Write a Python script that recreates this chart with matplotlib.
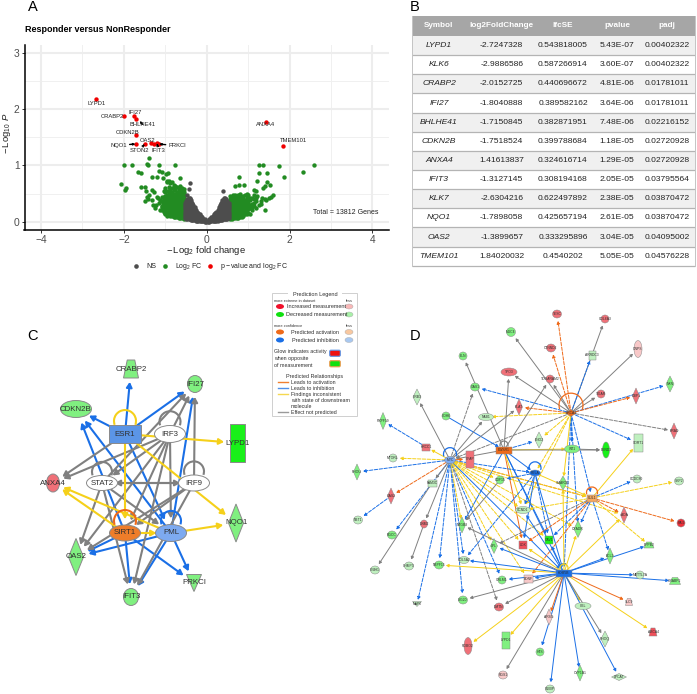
import matplotlib
matplotlib.use('Agg')
import matplotlib.pyplot as plt
from matplotlib.patches import Ellipse, Rectangle, Polygon, Arc, FancyBboxPatch

plt.rcParams['font.family'] = ['Liberation Sans', 'DejaVu Sans']
plt.rcParams['mathtext.fontset'] = 'custom'
plt.rcParams['mathtext.rm'] = 'Liberation Sans'
plt.rcParams['mathtext.it'] = 'Liberation Sans:italic'
plt.rcParams['mathtext.bf'] = 'Liberation Sans:bold'

W, H = 697, 694
# ---------- Panel A data ----------
ns_rows = {0.02:[0.0,0.02],0.05:[0.0,0.02,0.04],0.08:[0.01,0.03,0.05],0.11:[0.01,0.03,0.06,0.08],0.14:[0.01,0.04,0.07,0.1],0.17:[0.02,0.05,0.08,0.11,0.13],
 0.2:[0.02,0.05,0.08,0.11,0.15],0.23:[0.02,0.05,0.08,0.11,0.14,0.18],0.26:[0.02,0.05,0.08,0.12,0.16,0.2],0.29:[0.03,0.06,0.1,0.14,0.18,0.22,0.26],
 0.32:[0.03,0.06,0.1,0.14,0.18,0.22,0.26,0.3],0.35:[0.03,0.07,0.11,0.15,0.19,0.23,0.27,0.31,0.34],0.38:[0.03,0.07,0.11,0.15,0.19,0.23,0.27,0.31,0.35,0.39],
 0.41:[0.04,0.08,0.12,0.16,0.2,0.24,0.28,0.32,0.36,0.4,0.43],0.44:[0.04,0.08,0.12,0.16,0.2,0.24,0.28,0.32,0.36,0.4,0.43],
 0.47:[0.05,0.09,0.13,0.17,0.21,0.25,0.29,0.33,0.37,0.41],0.5:[0.05,0.09,0.13,0.17,0.21,0.25,0.29,0.33,0.37],0.53:[0.06,0.1,0.14,0.18,0.22,0.26,0.3,0.34]}
ns_x = [s*k for k,v in ns_rows.items() for _ in v for s in (-1,1)] + [-0.4,-0.43,0.4,-0.48]
ns_y = [y for k,v in ns_rows.items() for y in v for _ in (0,1)] + [0.69,0.58,0.55,0.47]
fc_left_rows = {-0.56:[0.05,0.09,0.13,0.17,0.21,0.25,0.29,0.33,0.37,0.41,0.45,0.49,0.53,0.58],-0.6:[0.06,0.1,0.14,0.18,0.22,0.26,0.3,0.34,0.38,0.42,0.46,0.5,0.54,0.6],
 -0.64:[0.06,0.1,0.14,0.18,0.22,0.26,0.3,0.34,0.38,0.42,0.46,0.5,0.55,0.63],-0.68:[0.07,0.11,0.15,0.19,0.23,0.27,0.31,0.35,0.39,0.43,0.47,0.52,0.58],
 -0.72:[0.08,0.12,0.16,0.2,0.24,0.28,0.32,0.36,0.4,0.44,0.48,0.53,0.62],-0.76:[0.08,0.12,0.16,0.2,0.24,0.28,0.32,0.36,0.4,0.44,0.5,0.56,0.64],
 -0.8:[0.09,0.13,0.17,0.21,0.25,0.29,0.33,0.37,0.41,0.45,0.5,0.58,0.66],-0.84:[0.1,0.14,0.18,0.22,0.26,0.3,0.34,0.38,0.42,0.47,0.53,0.6,0.71],
 -0.88:[0.1,0.14,0.18,0.23,0.27,0.31,0.35,0.4,0.45,0.5,0.58,0.68],-0.92:[0.12,0.17,0.21,0.26,0.3,0.34,0.38,0.44,0.5,0.55,0.62],
 -0.96:[0.1,0.17,0.24,0.29,0.33,0.38,0.42,0.47,0.55,0.7],-1.0:[0.13,0.2,0.27,0.33,0.4,0.46,0.52,0.6],-1.04:[0.17,0.24,0.31,0.38,0.44,0.54],-1.08:[0.2,0.27,0.36,0.44]}
fc_right_rows = {0.56:[0.05,0.09,0.13,0.17,0.21,0.25,0.29,0.33,0.37,0.41,0.45],0.6:[0.05,0.09,0.13,0.17,0.21,0.25,0.29,0.33,0.37,0.41,0.44],
 0.64:[0.06,0.1,0.14,0.18,0.22,0.26,0.3,0.34,0.38,0.42,0.47],0.68:[0.06,0.1,0.14,0.18,0.22,0.26,0.3,0.34,0.38,0.42,0.48],
 0.72:[0.07,0.11,0.15,0.19,0.23,0.27,0.31,0.35,0.39,0.43],0.76:[0.07,0.11,0.15,0.19,0.23,0.27,0.31,0.35,0.39,0.43,0.47],
 0.8:[0.08,0.12,0.16,0.2,0.24,0.28,0.32,0.36,0.4,0.46,0.5],0.84:[0.09,0.13,0.17,0.21,0.25,0.29,0.33,0.37,0.42],
 0.88:[0.11,0.15,0.2,0.25,0.3,0.35,0.4,0.46],0.92:[0.13,0.18,0.23,0.28,0.33,0.38,0.48],0.96:[0.14,0.2,0.26,0.31,0.36,0.42,0.5],
 1.0:[0.15,0.22,0.28,0.34,0.4,0.48],1.05:[0.14,0.24,0.3,0.38,0.42],1.1:[0.2,0.26,0.32,0.42],1.15:[0.28,0.34,0.4,0.56],1.2:[0.25,0.36,0.42,0.54]}
fc_x = [-2.0,-1.8,-1.44,-1.41,-1.4,-1.15,-0.77,-1.65,-1.58,-1.33,-1.15,-1.09,-1.21,-0.93,-0.98,-1.05,-0.64,
 -2.06,-1.95,-1.97,-1.59,-1.49,-1.47,-1.33,-1.27,-1.45,-1.41,-1.33,-1.21,-1.12,-1.05,-1.5,-1.39,-1.3,-1.24,-1.12,-1.08,-1.02,-0.95,-0.9,-1.16,-1.22,-1.18,
 2.59,2.32,1.86,1.75,1.25,1.35,1.25,1.45,1.22,1.45,1.53,1.41,1.37,0.79,0.67,0.77,0.9,1.6,1.56,1.4,1.33,1.22,1.15,1.4,1.5,1.42,1.3,1.25,1.32]
fc_y = [1.0,1.0,1.02,1.0,1.13,1.01,1.01,0.88,0.86,0.8,0.9,0.88,0.8,0.87,0.85,0.77,0.78,
 0.67,0.6,0.57,0.62,0.61,0.55,0.56,0.53,0.44,0.4,0.38,0.44,0.38,0.33,0.36,0.48,0.3,0.25,0.2,0.28,0.16,0.72,0.72,0.34,0.3,0.42,
 1.0,0.88,0.79,0.99,1.0,1.0,0.86,0.86,0.73,0.7,0.66,0.63,0.6,0.79,0.63,0.65,0.66,0.47,0.44,0.4,0.42,0.45,0.48,0.2,0.43,0.38,0.36,0.3,0.31]
for rows_ in (fc_left_rows, fc_right_rows):
    for k, v in rows_.items():
        fc_x += [k]*len(v); fc_y += v
sig_x = [-2.67,-1.99,-1.76,-1.71,-1.70,-1.72,-1.5,-1.35,-1.27,-1.2,-1.15,1.42,1.84]
sig_y = [2.18,1.88,1.87,1.82,1.54,1.38,1.38,1.39,1.38,1.39,1.38,1.78,1.34]
labels = [('LYPD1',-2.67,2.18,-2.67,2.10,False),('CRABP2',-1.99,1.88,-2.29,1.87,False),('IFI27',-1.76,1.87,-1.72,1.94,False),
 ('BHLHE41',-1.62,1.79,-1.55,1.73,True),('CDKN2B',-1.70,1.54,-1.92,1.59,False),('NQO1',-1.72,1.38,-2.13,1.36,True),
 ('OAS2',-1.5,1.38,-1.43,1.45,False),('STON2',-1.5,1.38,-1.63,1.26,True),('IFIT3',-1.2,1.39,-1.16,1.27,True),
 ('PRKCI',-1.15,1.38,-0.71,1.35,True),('ANXA4',1.42,1.78,1.41,1.72,False),('TMEM101',1.84,1.34,2.09,1.44,False)]
xticks = [-4,-2,0,2,4]; yticks = [0,1,2,3]

# ---------- Panel B data ----------
tbl_header = ['Symbol','log2FoldChange','lfcSE','pvalue','padj']
tbl_symbol = ['LYPD1','KLK6','CRABP2','IFI27','BHLHE41','CDKN2B','ANXA4','IFIT3','KLK7','NQO1','OAS2','TMEM101']
tbl_lfc = ['-2.7247328','-2.9886586','-2.0152725','-1.8040888','-1.7150845','-1.7518524','1.41613837','-1.3127145','-2.6304216','-1.7898058','-1.3899657','1.84020032']
tbl_se = ['0.543818005','0.587266914','0.440696672','0.389582162','0.382871951','0.399788684','0.324616714','0.308194168','0.622497892','0.425657194','0.333295896','0.4540202']
tbl_p = ['5.43E-07','3.60E-07','4.81E-06','3.64E-06','7.48E-06','1.18E-05','1.29E-05','2.05E-05','2.38E-05','2.61E-05','3.04E-05','5.05E-05']
tbl_padj = ['0.00402322','0.00402322','0.01781011','0.01781011','0.02216152','0.02720928','0.02720928','0.03795564','0.03870472','0.03870472','0.04095002','0.04576228']

# ---------- Network colours ----------
BL,OR,YE,GY = '#1a6fe6','#ee6a1a','#f5d01a','#808080'
LG,MG,BG = '#bff0bf','#80f080','#19f019'
LR,MR = '#f8c8c8','#f07078'
# name: x, y, w, h, shape, fill
nodes_c = {'CRABP2':(131,369,15,18,'trap',MG),'IFI27':(195,384,15,17,'ell',MG),'CDKN2B':(76,409,31,17,'ell',MG),
 'ESR1':(125,434,32,18,'rect','#5b95e6'),'IRF3':(170,434,31,17,'ell','white'),'LYPD1':(237,443,15,38,'rect',BG),
 'ANXA4':(53,483,13,18,'ell',MR),'STAT2':(102,483,31,15,'ell','white'),'IRF9':(194,483,31,16,'ell','white'),
 'NQO1':(236,523,15,38,'dia',MG),'SIRT1':(125,533,31,16,'ell','#ee7d2a'),'PML':(171,533,31,17,'ell','#7daaf0'),
 'OAS2':(76,557,15,37,'dia',MG),'PRKCI':(194,583,15,17,'tri',MG),'IFIT3':(131,597,15,17,'ell',MG)}
edges_c = [('ESR1','CRABP2',BL),('ESR1','IFI27',BL),('ESR1','CDKN2B',BL),('ESR1','PML',BL),('PML','CDKN2B',BL),('SIRT1','CDKN2B',BL),
 ('PML','IFI27',BL),('PML','IFIT3',BL),('PML','OAS2',BL),('PML','PRKCI',BL),('SIRT1','OAS2',BL),('SIRT1','PRKCI',BL),('SIRT1','IFIT3',BL),
 ('IRF3','IFI27',GY),('IRF3','ANXA4',GY),('IRF3','STAT2',GY),('IRF3','OAS2',GY),('IRF3','IFIT3',GY),('IRF3','SIRT1',GY),('IRF3','PML',GY),
 ('IRF9','IFI27',GY),('STAT2','IFI27',GY),('STAT2','IRF9',GY),('IRF9','STAT2',GY),('STAT2','OAS2',GY),('STAT2','PML',GY),('IRF9','OAS2',GY),
 ('IRF9','IFIT3',GY),('IRF9','SIRT1',GY),('ESR1','ANXA4',GY),('STAT2','IFIT3',GY),
 ('ESR1','LYPD1',YE),('ESR1','NQO1',YE),('ESR1','SIRT1',YE),('SIRT1','ANXA4',YE),('PML','ANXA4',YE),('PML','NQO1',YE),('SIRT1','PML',YE)]
loops_c = [('ESR1',YE,22),('IRF3',GY,21),('STAT2',GY,20),('IRF9',GY,20),('SIRT1',OR,22),('PML',BL,20)]

nodes_d = {'TESC':(557,314,9,8,'ell',MR),'COL6A3':(605,319,8,8,'ell',MR),'MUC4':(511,332,9,9,'ell',MG),'CTNND2':(551,348,9,8,'ell',MR),
 'GNPS':(638,349,8,17,'ell',LR),'ARRDC3':(592,355,7,9,'rect',LG),'ELN':(463,356,8,8,'ell',MG),'TPO3':(509,372,16,8,'ell',MR),
 'TOGARAM2':(550,379,8,8,'ell',MR),'GAS1':(475,387,9,8,'ell',MG),'NXN':(670,384,8,16,'dia',MG),'CRB3':(417,397,8,16,'dia',LG),
 'TIGAR':(601,394,8,8,'ell',MR),'GBP1':(636,396,7,16,'dia',MR),'PLAT':(519,407,7,16,'dia',MR),'BRCA1':(571,413,11,7,'dia',OR),
 'NAB1':(486,417,15,7,'ell',LG),'CDH6':(446,416,8,8,'ell',MG),'PRPF19':(383,421,7,17,'dia',MG),'RRAD':(674,431,7,16,'dia',MR),
 'ENO2':(539,440,8,16,'dia',LG),'SORT1':(638,443,9,18,'rect',LG),'WT1':(572,449,15,8,'ell',MG),'BEND3':(606,450,7,16,'ell',BG),
 'EWSR1':(504,450,16,7,'rect',OR),'KRCC1':(426,447,8,7,'rect',MR),'MTORL':(393,458,8,8,'ell',LG),'MYC':(450,460,11,7,'ell','#7daaf0'),
 'CFAP':(470,459,8,17,'rect',MR),'RELA':(535,473,11,6,'ell',BL),'RHOU':(357,472,7,16,'dia',MG),'FAM3C':(432,483,9,7,'rect',LG),
 'GDF15':(500,480,8,8,'ell',MG),'SMARD1':(563,483,8,14,'dia',MG),'CCDC80':(637,479,8,8,'ell',LG),'SKP2':(679,481,9,8,'ell',LG),
 'CUL1':(592,498,10,7,'rect','#f5a860'),'GAS2':(391,496,7,16,'dia',MR),'NET1':(358,520,9,8,'ell',LG),'RGCC':(392,535,9,8,'ell',MG),
 'DNM2':(424,524,7,8,'ell',MR),'CCND1':(523,510,15,7,'ell',LG),'ADA':(624,515,7,16,'dia',MR),'RAI2':(681,523,8,8,'ell','#f0303a'),
 'CXADR':(578,529,8,17,'dia',MG),'NTGB3':(462,525,7,16,'dia',MG),'LPL':(494,546,7,15,'dia',MG),'LOX':(523,545,8,8,'rect','#f0505a'),
 'CAV1':(549,540,8,8,'rect',BG),'EPPB2':(649,545,10,6,'trap',MG),'BCL2':(610,556,7,16,'dia',MG),'COL5A2':(464,560,10,7,'ell',LG),
 'CNIH1':(375,570,9,8,'ell',LG),'CHMP3':(409,566,9,8,'ell',LG),'NBPF15':(439,565,9,8,'ell',MG),'KDM5B':(564,573,16,7,'rect',BL),
 'METTL7A':(640,575,8,8,'ell',LG),'CRABP2':(675,581,11,7,'trap',MG),'GRLM1':(502,580,8,8,'ell',MG),'BDNF':(528,579,9,8,'rect',LR),
 'ISG20':(463,600,9,8,'ell',MG),'DMTN':(499,607,9,8,'ell',MR),'MAP6':(417,604,9,5,'tri',LG),'SLC9':(629,602,7,7,'trap',LR),
 'CBL':(583,606,16,7,'ell',LG),'ARSG':(549,617,7,16,'dia',LR),'ABCA4':(653,632,8,8,'trap','#f0505a'),'RHOQ':(605,639,8,16,'dia',LG),
 'ROBO2':(468,646,8,17,'ell',MR),'LYPD1':(506,640,8,17,'rect',MG),'HTS':(540,652,8,8,'ell',MG),'CYP1B1':(580,673,7,16,'dia',MG),
 'LPCAT':(619,677,15,7,'dia',LG),'RGS1':(503,675,9,8,'ell',LR),'S100P':(550,689,9,8,'ell',LG)}
# source, target, colour, dashed
edges_d = [('BRCA1','TESC',OR,1),('BRCA1','CTNND2',OR,1),('BRCA1','COL6A3',GY,0),('BRCA1','ARRDC3',BL,1),('BRCA1','GNPS',GY,0),('BRCA1','TIGAR',GY,0),
 ('BRCA1','NXN',BL,1),('BRCA1','GBP1',OR,1),('BRCA1','RRAD',GY,1),('BRCA1','SORT1',BL,1),('BRCA1','MUC4',GY,0),('BRCA1','TOGARAM2',GY,0),
 ('BRCA1','TPO3',GY,0),('BRCA1','PLAT',OR,1),('BRCA1','GAS1',BL,1),('BRCA1','NAB1',YE,1),('BRCA1','MYC',GY,1),('BRCA1','WT1',BL,1),('BRCA1','RELA',YE,1),
 ('BRCA1','CUL1',BL,1),('BRCA1','ENO2',YE,1),('BRCA1','KDM5B',BL,1),('BRCA1','CCND1',YE,1),('BRCA1','CXADR',BL,1),('BRCA1','SMARD1',YE,0),
 ('EWSR1','ELN',GY,0),('EWSR1','TPO3',GY,0),('EWSR1','TOGARAM2',GY,0),('EWSR1','ENO2',BL,1),('EWSR1','WT1',YE,0),('EWSR1','BEND3',GY,0),('EWSR1','KDM5B',BL,0),
 ('EWSR1','LOX',OR,0),('CDH6','EWSR1',BL,0),('EWSR1','CCND1',YE,0),('EWSR1','NTGB3',BL,0),('EWSR1','CAV1',BL,0),('EWSR1','MYC',GY,0),('EWSR1','RELA',BL,0),
 ('MYC','CRB3',GY,0),('MYC','GAS1',GY,1),('MYC','NAB1',GY,0),('MYC','PLAT',GY,0),('MYC','KRCC1',YE,0),('KRCC1','PRPF19',BL,1),('MYC','MTORL',YE,1),('MYC','RHOU',BL,1),
 ('MYC','GAS2',OR,1),('GAS2','NET1',BL,1),('MYC','RGCC',BL,1),('MYC','DNM2',GY,0),('FAM3C','CNIH1',GY,0),('MYC','FAM3C',GY,0),('DNM2','CHMP3',GY,0),('MYC','NBPF15',BL,1),
 ('MYC','MAP6',BL,1),('MYC','COL5A2',BL,1),('MYC','ISG20',BL,1),('MYC','GRLM1',BL,1),('MYC','DMTN',GY,1),('MYC','BDNF',YE,1),('MYC','LOX',YE,1),('MYC','CCND1',YE,1),
 ('MYC','CUL1',OR,1),('MYC','KDM5B',BL,0),('MYC','CAV1',YE,1),('MYC','RELA',BL,1),('MYC','LPL',YE,1),('MYC','CFAP',OR,0),('MYC','CUL1',YE,1),
 ('MYC','GDF15',YE,1),('MYC','CXADR',YE,1),('MYC','ADA',YE,1),('MYC','NTGB3',YE,1),
 ('RELA','GDF15',BL,1),('RELA','CAV1',BL,1),('RELA','KDM5B',BL,0),('RELA','CUL1',YE,0),('RELA','LOX',BL,0),('RELA','CCND1',BL,1),('GDF15','NTGB3',GY,0),('RELA','COL5A2',BL,1),
 ('CUL1','ADA',OR,1),('CUL1','RAI2',OR,1),('CUL1','EPPB2',YE,1),('CUL1','BCL2',BL,1),('CUL1','SKP2',YE,1),('CUL1','CCDC80',BL,1),('CUL1','LOX',OR,1),('CUL1','BDNF',OR,1),
 ('CUL1','LPL',GY,1),('CUL1','CAV1',BL,1),('CUL1','CXADR',BL,1),('CUL1','CCND1',YE,1),('CUL1','SORT1',YE,0),
 ('KDM5B','BCL2',BL,0),('KDM5B','EPPB2',BL,0),('KDM5B','METTL7A',BL,0),('KDM5B','CRABP2',BL,0),('KDM5B','SLC9',OR,0),('KDM5B','ABCA4',YE,0),('KDM5B','CBL',YE,0),
 ('KDM5B','RHOQ',GY,0),('KDM5B','LPCAT',BL,0),('KDM5B','CYP1B1',BL,0),('KDM5B','S100P',BL,0),('KDM5B','HTS',BL,0),('KDM5B','ARSG',OR,0),('KDM5B','RGS1',GY,0),
 ('KDM5B','LYPD1',YE,0),('KDM5B','ROBO2',YE,0),('KDM5B','DMTN',GY,0),('KDM5B','ISG20',GY,0),('KDM5B','BDNF',BL,0),('KDM5B','GRLM1',BL,0),('KDM5B','NBPF15',YE,0),
 ('KDM5B','COL5A2',BL,0),('KDM5B','LPL',BL,0),('KDM5B','NTGB3',GY,0),('KDM5B','LOX',YE,0),('KDM5B','CAV1',BL,0),('KDM5B','CXADR',YE,0),('KDM5B','ADA',YE,0),('KDM5B','CCND1',BL,0),
 ('KDM5B','SMARD1',YE,0),('WT1','BEND3',GY,0)]
loops_d = [('BRCA1',OR,24),('MYC',BL,13),('RELA',BL,12),('CUL1',OR,11),('EWSR1',GY,8),('KDM5B',YE,8)]

fig = plt.figure(figsize=(W/100, H/100), dpi=100, facecolor='white')
net = fig.add_axes([0,0,1,1]); net.set_xlim(0,W); net.set_ylim(H,0); net.axis('off')

def shape(ax, x, y, w, h, kind, fc, lw, z=5):
    ec = '#8a8a8a'
    if kind == 'ell':
        p = Ellipse((x,y), w, h, fc=fc, ec=ec, lw=lw)
    elif kind == 'rect':
        p = Rectangle((x-w/2,y-h/2), w, h, fc=fc, ec=ec, lw=lw)
    elif kind == 'dia':
        p = Polygon([(x,y-h/2),(x+w/2,y),(x,y+h/2),(x-w/2,y)], fc=fc, ec=ec, lw=lw)
    elif kind == 'trap':
        p = Polygon([(x-w*.25,y-h/2),(x+w*.25,y-h/2),(x+w/2,y+h/2),(x-w/2,y+h/2)], fc=fc, ec=ec, lw=lw)
    else:
        p = Polygon([(x-w/2,y-h/2),(x+w/2,y-h/2),(x,y+h/2)], fc=fc, ec=ec, lw=lw)
    p.set_zorder(z); ax.add_patch(p)

def draw_network(nodes, edges, loops, lw, ms, shrink_scale, fs, node_lw, loop_lw):
    for e in edges:
        a, b, col = e[0], e[1], e[2]
        dashed = len(e) > 3 and e[3]
        xa, ya = nodes[a][:2]; xb, yb = nodes[b][:2]
        rb = min(nodes[b][2], nodes[b][3]) * shrink_scale
        net.annotate('', xy=(xb,yb), xytext=(xa,ya), zorder=3,
            arrowprops=dict(arrowstyle='-|>,head_length=%.2f,head_width=%.2f' % (ms, ms*.55), color=col, lw=lw,
                            shrinkA=0, shrinkB=rb, linestyle=(0,(3.5,1.5)) if dashed else '-'))
    for item in loops:
        n, col, d = item
        x, y, w, h = nodes[n][:4]
        net.add_patch(Arc((x, y-h/2-d*.18), d, d, theta1=160, theta2=380, color=col, lw=loop_lw, zorder=4))
    for n, (x,y,w,h,kind,fc) in nodes.items():
        shape(net, x, y, w, h, kind, fc, node_lw)
        net.text(x, y, n, ha='center', va='center', fontsize=fs, color='#303030', zorder=6)

draw_network(nodes_c, edges_c, loops_c, 1.5, 0.3, 0.62, 5.7, 0.7, 1.5)
draw_network(nodes_d, edges_d, loops_d, 0.7, 0.16, 0.62, 2.4, 0.35, 0.9)

# Panel letters
for t,x,y in [('A',33,7),('B',415,7),('C',33,336),('D',415,336)]:
    net.text(x, y, t, fontsize=10.5, ha='center', va='center', color='black')

# Prediction legend
net.add_patch(Rectangle((272,293),85,123,fc='white',ec='#cfcfcf',lw=0.7,zorder=7))
def lt(x,y,s,fs=3.6,ha='left',**k):
    net.text(x,y,s,fontsize=fs,ha=ha,va='center',color='#303030',zorder=8,**k)
net.add_patch(Rectangle((288,291),54,4,fc='white',ec='none',zorder=7.5))
lt(315,294.5,'Prediction Legend',fs=4,ha='center')
lt(274,300.5,'more extreme in dataset',fs=2.8); lt(349,300.5,'less',fs=2.8,ha='center')
rows = [(306.5,'Increased measurement',287,'#f0102a','#f8b8b8'),(314.5,'Decreased measurement',286,'#10e010','#a8f0a8'),
        (332,'Predicted activation',291,'#ee6a1a','#f8c8a0'),(340,'Predicted inhibition',292,'#1a6fe6','#a8c8f0')]
for y,s,tx,c1,c2 in rows:
    net.add_patch(Ellipse((280,y),8,5,fc=c1,ec='none',zorder=8))
    net.add_patch(Ellipse((349,y),8,5,fc=c2,ec='#aaaaaa',lw=.3,zorder=8))
    lt(tx,y,s,fs=4)
lt(274,325.5,'more confidence',fs=2.8); lt(349,325.5,'less',fs=2.8,ha='center')
lt(274,351,'Glow indicates activity',fs=3.8); lt(274,358,'when opposite',fs=3.8); lt(274,365,'of measurement',fs=3.8)
net.add_patch(FancyBboxPatch((331,351.5),8,3.5,boxstyle='round,pad=1.3',fc='#ee1010',ec='#5b95e6',lw=.8,zorder=8))
net.add_patch(FancyBboxPatch((331,362),8,3.5,boxstyle='round,pad=1.3',fc='#10e010',ec='#ee9a50',lw=.8,zorder=8))
lt(315,376,'Predicted Relationships',fs=3.9,ha='center')
for y,c in [(382,'#f08030'),(388,'#4f8fe8'),(394,'#f5d850'),(412,'#9a9a9a')]:
    net.plot([278,288],[y,y],color=c,lw=1,zorder=8)
lt(291,382,'Leads to activation',fs=3.8); lt(291,388,'Leads to inhibition',fs=3.8)
lt(291,394,'Findings inconsistent',fs=3.8); lt(291,400,'with state of downstream',fs=3.8)
lt(291,406,'molecule',fs=3.8); lt(291,412,'Effect not predicted',fs=3.8)

# ---------- Panel B ----------
tx0, tx1 = 412, 695
edges_y = [16,35.7,55,74,93.3,112.7,132,150.7,170,189,208,227.3,246.7,265.7]
col_x = [439,501.7,563,617,667]
net.add_patch(Rectangle((tx0,edges_y[0]),tx1-tx0,edges_y[1]-edges_y[0],fc='#a6a6a6',ec='none'))
for c,s in zip(col_x,tbl_header):
    net.text(c,(edges_y[0]+edges_y[1])/2,s,fontsize=5.9,weight='bold',color='white',ha='center',va='center')
for i in range(12):
    y0,y1 = edges_y[i+1],edges_y[i+2]
    net.add_patch(Rectangle((tx0,y0),tx1-tx0,y1-y0,fc='#f0f0f0' if i%2==0 else 'white',ec='none'))
    net.plot([tx0,tx1],[y1,y1],color='#b4b4b4',lw=.9,solid_capstyle='butt')
    ym = (y0+y1)/2
    net.text(col_x[0],ym,tbl_symbol[i],fontsize=6.1,style='italic',color='#222222',ha='center',va='center')
    for c,v in zip(col_x[1:],(tbl_lfc[i],tbl_se[i],tbl_p[i],tbl_padj[i])):
        net.text(c,ym,v,fontsize=6.1,color='#222222',ha='center',va='center')
net.plot([tx0,tx0],[edges_y[0],edges_y[-1]],color='#c4c4c4',lw=.7)
net.plot([tx1,tx1],[edges_y[0],edges_y[-1]],color='#c4c4c4',lw=.7)

# ---------- Panel A ----------
ax = fig.add_axes([24.5/W,(H-230)/H,(389-24.5)/W,(230-45)/H], facecolor='none')
ax.set_xlim(-4.4,4.4); ax.set_ylim(-0.147,3.14)
for v in [-3,-1,1,3]: ax.axvline(v,color='#f0f0f0',lw=.7,zorder=0)
for v in [.5,1.5,2.5]: ax.axhline(v,color='#f0f0f0',lw=.7,zorder=0)
for v in xticks: ax.axvline(v,color='#ededed',lw=1.5,zorder=0)
for v in yticks: ax.axhline(v,color='#ededed',lw=1.5,zorder=0)
ms = 10
ax.scatter(fc_x,fc_y,s=ms,c='#228b22',lw=0,zorder=2)
ax.scatter(ns_x,ns_y,s=ms,c='#4d4d4d',lw=0,zorder=3)
ax.scatter(sig_x,sig_y,s=ms,c='#f00000',lw=0,zorder=4)
for name,px,py,tx,ty,arrow in labels:
    ax.annotate(name,xy=(px,py),xytext=(tx,ty),fontsize=4.2,ha='center',va='center',color='#222222',zorder=5,
        arrowprops=dict(arrowstyle='-|>,head_length=.25,head_width=.12',color='black',lw=1,shrinkA=0,shrinkB=0) if arrow else None)
ax.text(3.36,0.165,'Total = 13812 Genes',fontsize=5,ha='center',va='center',color='#222222')
ax.set_xticks(xticks); ax.set_yticks(yticks)
ax.set_xticklabels(['\u22124','\u22122','0','2','4'])
ax.tick_params(axis='both',labelsize=7.4,labelcolor='#4d4d4d',color='#333333',length=2,width=.7,pad=1.5)
for s in ('top','right'): ax.spines[s].set_visible(False)
for s in ('left','bottom'): ax.spines[s].set_linewidth(1.1)
net.text(206,250,r'$\mathrm{-\,Log_2\ fold\ change}$',fontsize=6.8,ha='center',va='center',color='#222222')
net.text(7,133,r'$\mathrm{-\,Log_{10}}\ \mathit{P}$',fontsize=6.8,rotation=90,ha='center',va='center',color='#222222')
net.text(25,29,'Responder versus NonResponder',fontsize=6.5,weight='bold',ha='left',va='center',color='black')
for x,c,s,tx in [(136,'#4d4d4d','NS',146),(165,'#228b22',r'$\mathrm{Log_2\ FC}$',175),(210,'#f00000',r'$\mathrm{p-value\ and\ log_2\ FC}$',220)]:
    net.scatter([x],[266],s=11,c=c,lw=0,zorder=5)
    net.text(tx,266,s,fontsize=5,ha='left',va='center',color='#222222')

fig.savefig('out.png',dpi=100)
